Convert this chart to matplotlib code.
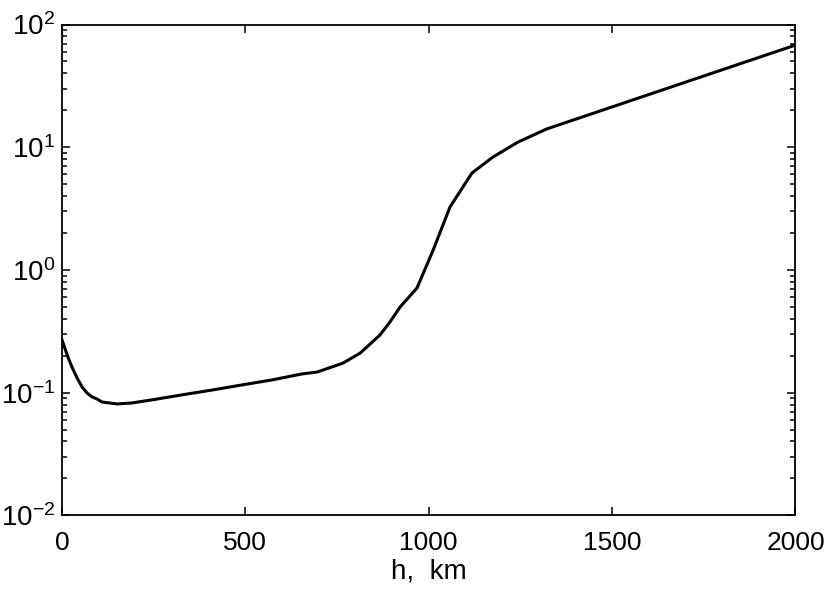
import numpy as np
import matplotlib
matplotlib.use("Agg")
import matplotlib.pyplot as plt
from matplotlib.ticker import LogLocator

# --- data (h in km, value on log axis) ---
h_km = [0, 14, 27, 41, 55, 68, 82, 95, 109, 150, 191, 245, 327, 409,
        491, 573, 654, 695, 766, 813, 867, 894, 922, 968, 1012, 1058,
        1118, 1175, 1243, 1322, 2000]
value = [0.269, 0.203, 0.162, 0.132, 0.111, 0.0995, 0.0923, 0.0889,
         0.0839, 0.0809, 0.0824, 0.0873, 0.0959, 0.105, 0.1156, 0.127,
         0.142, 0.147, 0.174, 0.210, 0.295, 0.376, 0.499, 0.713, 1.45,
         3.26, 6.17, 8.32, 11.0, 14.1, 68.0]

X_TICKS = [0, 500, 1000, 1500, 2000]

plt.rcParams.update({
    "font.family": ["Liberation Sans", "DejaVu Sans"],
    "mathtext.default": "regular",
    "font.size": 18,
    "axes.linewidth": 1.3,
})

fig = plt.figure(figsize=(8.3, 5.91), dpi=100)
ax = fig.add_axes([0.0747, 0.128, 0.8837, 0.8305])

ax.semilogy(h_km, value, color="black", linewidth=2.2)

ax.set_xlim(0, 2000)
ax.set_ylim(1e-2, 1e2)
ax.set_xticks(X_TICKS)
ax.yaxis.set_major_locator(LogLocator(base=10, numticks=10))
ax.yaxis.set_minor_locator(LogLocator(base=10, subs=np.arange(2, 10), numticks=20))

ax.tick_params(which="both", direction="in", top=True, right=True,
               width=1.1, color="black")
ax.tick_params(which="major", length=6)
ax.tick_params(which="minor", length=3.5)
ax.tick_params(axis="x", which="major", pad=11, labelsize=19)
ax.tick_params(axis="y", which="major", pad=5, labelsize=20)

ax.set_xlabel("h,  km", fontsize=20, labelpad=3)

fig.savefig("out.png", dpi=100)
